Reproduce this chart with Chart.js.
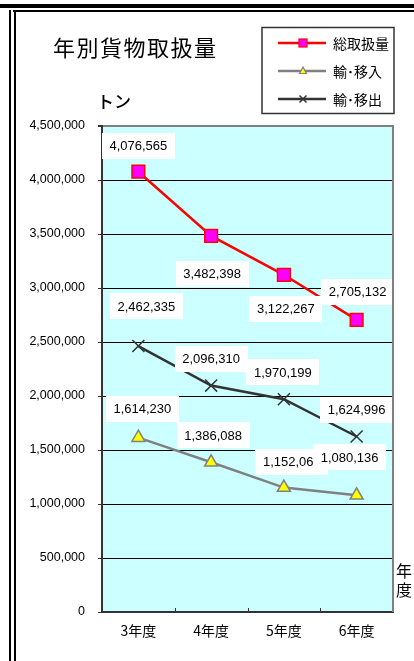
<!DOCTYPE html>
<html>
<head>
<meta charset="utf-8">
<script src="https://cdn.jsdelivr.net/npm/chart.js@4.4.1/dist/chart.umd.min.js"></script>
<style>
  html, body { margin: 0; padding: 0; background: #fff; width: 414px; height: 661px; overflow: hidden; }
  #wrap { position: relative; width: 414px; height: 661px; font-family: "Noto Sans CJK JP", "Liberation Sans", sans-serif; }
  canvas { position: absolute; left: 0; top: 0; }
  .bar { position: absolute; background: #000; }
  .txt { position: absolute; white-space: nowrap; color: #000; line-height: 1; }
</style>
</head>
<body>
<div id="wrap">
  <canvas id="c" width="414" height="661" style="width:414px;height:661px"></canvas>
  <div class="bar" style="left:0;top:4px;width:414px;height:4px"></div>
  <div class="bar" style="left:13px;top:10px;width:401px;height:2px"></div>
  <div class="bar" style="left:9px;top:10px;width:2px;height:651px"></div>
  <div class="bar" style="left:14px;top:12px;width:2px;height:649px"></div>
  <div class="txt" style="left:53px;top:35px;font-size:22px;letter-spacing:1.5px">年別貨物取扱量</div>
  <div class="txt" style="left:97px;top:92px;font-size:17px;font-weight:500">トン</div>
  <div class="txt" style="left:396px;top:561px;font-size:16px;line-height:19px">年<br>度</div>
</div>
<script>
const years = ['3年度', '4年度', '5年度', '6年度']
const total = [4076565, 3482398, 3122267, 2705132]
const imports = [1614230, 1386088, 1152068, 1080136]
const exports = [2462335, 2096310, 1970199, 1624996]
const seriesNames = ['総取扱量', '輸･移入', '輸･移出']

const numFont = '"Liberation Sans", "Noto Sans CJK JP", sans-serif'
const fmt = (v) => v.toLocaleString('en-US')

// where each value box sits relative to its point (px)
const labelOffsets = [
  [[0, -26], [1, 38], [2, 34], [1, -28]],
  [[4, -29], [2, -27], [8, -26], [-7, -38]],
  [[8, -40], [0, -27], [-1, -27], [0, -27]],
]

const plotBg = {
  id: 'plotBg',
  beforeDraw(chart) {
    const { ctx, chartArea: a } = chart
    ctx.save()
    ctx.fillStyle = '#CCFFFF'
    ctx.fillRect(a.left, a.top, a.right - a.left, a.bottom - a.top)
    ctx.restore()
  },
  afterDraw(chart) {
    const { ctx, chartArea: a } = chart
    const x = chart.scales.x
    ctx.save()
    ctx.strokeStyle = '#808080'
    ctx.lineWidth = 2
    ctx.beginPath()
    ctx.moveTo(a.right, a.top - 1)
    ctx.lineTo(a.right, a.bottom)
    ctx.stroke()
    // small category ticks on the bottom axis
    ctx.strokeStyle = '#333'
    ctx.lineWidth = 1
    for (let i = 1; i < years.length; i++) {
      const px = Math.round((x.getPixelForValue(i - 1) + x.getPixelForValue(i)) / 2) + 0.5
      ctx.beginPath()
      ctx.moveTo(px, a.bottom)
      ctx.lineTo(px, a.bottom - 4)
      ctx.stroke()
    }
    ctx.restore()
  },
}

const valueLabels = {
  id: 'valueLabels',
  afterDatasetsDraw(chart) {
    const { ctx } = chart
    ctx.save()
    ctx.font = '13px ' + numFont
    ctx.textAlign = 'center'
    ctx.textBaseline = 'middle'
    chart.data.datasets.forEach((ds, di) => {
      chart.getDatasetMeta(di).data.forEach((pt, i) => {
        const [dx, dy] = labelOffsets[di][i]
        const cx = pt.x + dx
        const cy = pt.y + dy
        const text = fmt(ds.data[i])
        const w = ctx.measureText(text).width + 15
        const h = 26
        ctx.fillStyle = '#fff'
        ctx.fillRect(Math.round(cx - w / 2), Math.round(cy - h / 2), Math.round(w), h)
        ctx.fillStyle = '#000'
        ctx.fillText(text, cx, cy + 1)
      })
    })
    ctx.restore()
  },
}

const legendBox = {
  id: 'legendBox',
  afterDraw(chart) {
    const { ctx } = chart
    ctx.save()
    ctx.strokeStyle = '#333'
    ctx.lineWidth = 1.5
    ctx.strokeRect(262, 27.5, 132, 86)
    chart.data.datasets.forEach((ds, i) => {
      const y = 43 + i * 28
      ctx.strokeStyle = ds.borderColor
      ctx.lineWidth = 2.5
      ctx.beginPath()
      ctx.moveTo(278, y)
      ctx.lineTo(326, y)
      ctx.stroke()
      const mx = 303
      ctx.lineWidth = 1.2
      ctx.strokeStyle = ds.pointBorderColor
      ctx.fillStyle = ds.pointBackgroundColor
      if (ds.pointStyle === 'rect') {
        ctx.fillRect(mx - 4, y - 4, 8, 8)
        ctx.strokeRect(mx - 4, y - 4, 8, 8)
      } else if (ds.pointStyle === 'triangle') {
        ctx.beginPath()
        ctx.moveTo(mx, y - 4)
        ctx.lineTo(mx + 3.5, y + 2.5)
        ctx.lineTo(mx - 3.5, y + 2.5)
        ctx.closePath()
        ctx.fill()
        ctx.stroke()
      } else {
        ctx.lineWidth = 1.5
        ctx.beginPath()
        ctx.moveTo(mx - 3.5, y - 3.5)
        ctx.lineTo(mx + 3.5, y + 3.5)
        ctx.moveTo(mx + 3.5, y - 3.5)
        ctx.lineTo(mx - 3.5, y + 3.5)
        ctx.stroke()
      }
      ctx.fillStyle = '#000'
      ctx.font = '14px "Noto Sans CJK JP", sans-serif'
      ctx.textAlign = 'left'
      ctx.textBaseline = 'middle'
      ctx.fillText(seriesNames[i], 333, y + 1)
    })
    ctx.restore()
  },
}

new Chart(document.getElementById('c'), {
  type: 'line',
  data: {
    labels: years,
    datasets: [
      {
        label: seriesNames[0],
        data: total,
        borderColor: '#FF0000',
        borderWidth: 2.5,
        pointStyle: 'rect',
        pointRadius: 9,
        pointHoverRadius: 9,
        pointBackgroundColor: '#FF00FF',
        pointBorderColor: '#FF0000',
        pointBorderWidth: 1.5,
      },
      {
        label: seriesNames[1],
        data: imports,
        borderColor: '#808080',
        borderWidth: 2.5,
        pointStyle: 'triangle',
        pointRadius: 7.5,
        pointHoverRadius: 7.5,
        pointBackgroundColor: '#FFFF00',
        pointBorderColor: '#808080',
        pointBorderWidth: 1.5,
      },
      {
        label: seriesNames[2],
        data: exports,
        borderColor: '#333333',
        borderWidth: 2.5,
        pointStyle: 'crossRot',
        pointRadius: 8.5,
        pointHoverRadius: 8.5,
        pointBackgroundColor: '#333333',
        pointBorderColor: '#333333',
        pointBorderWidth: 1.5,
      },
    ],
  },
  options: {
    responsive: false,
    animation: false,
    layout: { padding: { left: 0, right: 21, top: 126, bottom: 0 } },
    plugins: {
      legend: { display: false },
      tooltip: { enabled: false },
    },
    scales: {
      x: {
        offset: true,
        grid: { display: false, drawTicks: false },
        border: { color: '#333', width: 2 },
        ticks: {
          color: '#000',
          padding: 10,
          font: { size: 14, family: '"Noto Sans CJK JP", sans-serif' },
        },
        afterFit: (s) => { s.height = 49 },
      },
      y: {
        min: 0,
        max: 4500000,
        border: { color: '#333', width: 2 },
        grid: {
          color: (c) => (c.tick && c.tick.value === 4500000 ? '#808080' : '#000'),
          lineWidth: (c) => (c.tick && c.tick.value === 4500000 ? 2 : 1),
          tickLength: 4,
          tickColor: '#333',
        },
        ticks: {
          stepSize: 500000,
          padding: 13,
          color: '#000',
          font: { size: 12.5, family: numFont },
          callback: (v) => fmt(v),
        },
        afterFit: (s) => { s.width = 102 },
      },
    },
  },
  plugins: [plotBg, valueLabels, legendBox],
})
</script>
</body>
</html>
